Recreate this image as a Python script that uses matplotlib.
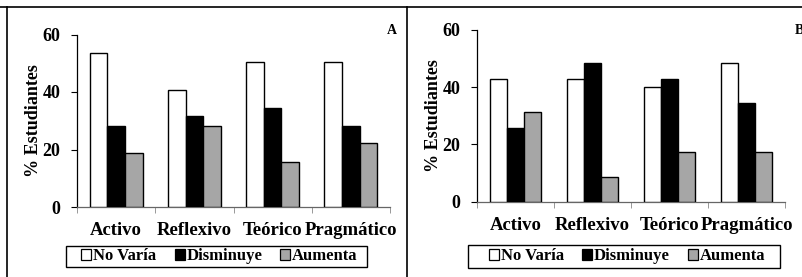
import matplotlib
matplotlib.use("Agg")
import matplotlib.pyplot as plt
from matplotlib.lines import Line2D
from matplotlib.patches import Patch, Rectangle
import numpy as np

categories = ["Activo", "Reflexivo", "Teórico", "Pragmático"]
series_names = ["No Varía", "Disminuye", "Aumenta"]
panel_a_no_varia = [53.4, 40.8, 50.4, 50.4]
panel_a_disminuye = [28.3, 31.7, 34.5, 28.3]
panel_a_aumenta = [18.9, 28.3, 15.8, 22.2]
panel_b_no_varia = [42.7, 42.7, 40.2, 48.6]
panel_b_disminuye = [25.8, 48.6, 42.7, 34.3]
panel_b_aumenta = [31.4, 8.4, 17.3, 17.3]
y_ticks = [0, 20, 40, 60]

colors = ["white", "black", "#a6a6a6"]
serif = ["Liberation Serif", "DejaVu Serif"]
plt.rcParams["font.family"] = serif
plt.rcParams["font.weight"] = "bold"

W, H = 802, 277
fig = plt.figure(figsize=(W / 100, H / 100), dpi=100)
fig.patch.set_facecolor("white")


def px_axes(x0, x1, y0, y1):
    return fig.add_axes([x0 / W, 1 - y0 / H, (x1 - x0) / W, (y0 - y1) / H])


def draw(ax, data):
    x = np.arange(len(categories))
    bw = 0.225
    for k, (vals, c) in enumerate(zip(data, colors)):
        ax.bar(x + (k - 1) * bw, vals, width=bw, color=c, edgecolor="black",
               linewidth=1.0, zorder=3)
    ax.set_xlim(-0.5, 3.5)
    ax.set_ylim(0, 60)
    ax.set_yticks(y_ticks)
    ax.set_yticklabels([str(t) for t in y_ticks], fontsize=13, fontweight="bold")
    ax.set_xticks(x)
    ax.set_xticklabels(categories, fontsize=13.5, fontweight="bold")
    ax.set_xticks(np.arange(-0.5, 4.0, 1.0), minor=True)
    ax.tick_params(axis="x", which="major", length=0, pad=11)
    ax.tick_params(axis="x", which="minor", length=4, color="#888888", direction="out")
    ax.tick_params(axis="y", length=4, pad=8, color="black")
    for s in ["top", "right"]:
        ax.spines[s].set_visible(False)
    ax.spines["left"].set_color("black")
    ax.spines["bottom"].set_color("#666666")
    ax.spines["left"].set_linewidth(0.9)
    ax.spines["bottom"].set_linewidth(0.9)
    ax.set_ylabel("% Estudiantes", fontsize=13, fontweight="bold", labelpad=0)
    ax.set_facecolor("white")


ax1 = px_axes(77, 390, 207, 34.5)
draw(ax1, [panel_a_no_varia, panel_a_disminuye, panel_a_aumenta])
ax2 = px_axes(477, 785, 201.5, 30)
draw(ax2, [panel_b_no_varia, panel_b_disminuye, panel_b_aumenta])

handles = [Patch(facecolor=c, edgecolor="black", linewidth=0.9) for c in colors]
for (x0, x1, y0, y1) in [(66, 367, 267, 246), (468, 780, 268, 245)]:
    fig.add_artist(Rectangle((x0 / W, 1 - y0 / H), (x1 - x0) / W, (y0 - y1) / H,
                             transform=fig.transFigure, facecolor="white",
                             edgecolor="black", linewidth=1.0))
    fig.legend(handles, series_names, loc="center", ncol=3,
               bbox_to_anchor=((x0 + x1) / 2 / W + 3 / W, 1 - (y0 + y1) / 2 / H),
               prop={"family": serif, "weight": "bold", "size": 12},
               frameon=False, handlelength=0.6, handleheight=0.6,
               handletextpad=0.1, borderpad=0.0, borderaxespad=0,
               columnspacing=1.1)

fig.text(392 / W, 1 - 31 / H, "A", fontsize=10, fontweight="bold", ha="center", va="center")
fig.text(795 / W, 1 - 30 / H, "B", fontsize=10, fontweight="bold", ha="left", va="center")

fig.add_artist(Line2D([0, 1], [1 - 6.5 / H, 1 - 6.5 / H], color="black", lw=1.2))
fig.add_artist(Line2D([6.5 / W, 6.5 / W], [0, 1 - 6.5 / H], color="black", lw=1.2))
fig.add_artist(Line2D([407 / W, 407 / W], [0, 1 - 6.5 / H], color="black", lw=1.2))

fig.savefig("out.png", dpi=100, facecolor="white")
